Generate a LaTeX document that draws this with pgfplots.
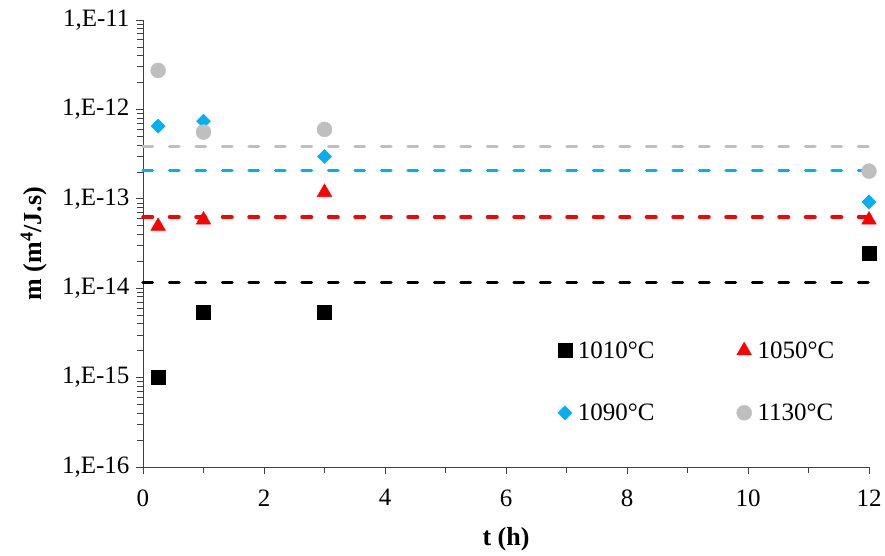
\documentclass[border=0pt]{standalone}
\usepackage{fontspec}
\setmainfont{Liberation Serif}
\usepackage{pgfplots}
\pgfplotsset{compat=1.18}
\definecolor{cgray}{RGB}{191,191,191}
\definecolor{cblue}{RGB}{0,176,240}
\definecolor{cred}{RGB}{255,0,0}
\definecolor{axgray}{RGB}{64,64,64}
\newcommand{\tl}[1]{\textnormal{\fontsize{25}{30}\selectfont #1}}
\begin{document}
\begin{tikzpicture}
\path[use as bounding box] (-143pt,-89pt) rectangle (742pt,467pt);
\begin{axis}[
 at={(0,0)}, anchor=south west,
 scale only axis, width=726pt, height=447pt,
 xmin=0, xmax=12, ymode=log, ymin=1e-16, ymax=1e-11,
 axis lines*=left,
 axis line style={axgray, line width=0.8pt},
 xtick={0,2,...,12}, minor xtick={1,3,...,11},
 xticklabels={\tl{0},\tl{2},\tl{4},\tl{6},\tl{8},\tl{10},\tl{12}},
 ytick={1e-16,1e-15,1e-14,1e-13,1e-12,1e-11},
 yticklabels={{\tl{1,E-16}},{\tl{1,E-15}},{\tl{1,E-14}},{\tl{1,E-13}},{\tl{1,E-12}},{\tl{1,E-11}}},
 minor ytick={2e-16,3e-16,4e-16,5e-16,6e-16,7e-16,8e-16,9e-16,
   2e-15,3e-15,4e-15,5e-15,6e-15,7e-15,8e-15,9e-15,
   2e-14,3e-14,4e-14,5e-14,6e-14,7e-14,8e-14,9e-14,
   2e-13,3e-13,4e-13,5e-13,6e-13,7e-13,8e-13,9e-13,
   2e-12,3e-12,4e-12,5e-12,6e-12,7e-12,8e-12,9e-12},
 /pgf/number format/assume math mode=true,
 tick align=outside, major tick length=7pt, minor tick length=6pt,
 tick style={axgray, line width=0.8pt},
 every tick label/.append style={font=\fontsize{25}{30}\selectfont},
 xticklabel style={yshift=-12pt},
 yticklabel style={xshift=-3pt},
 xlabel={\textbf{t (h)}}, ylabel={\textbf{m (m\textsuperscript{4}/J.s)}},
 xlabel style={yshift=-14pt},
 ylabel style={yshift=8pt},
 label style={font=\fontsize{26}{30}\selectfont},
 clip=false,
 legend columns=2,
 legend cell align=left,
 legend style={draw=none, fill=none, at={(0.567,0.29)}, anchor=north west,
   font=\fontsize{25}{25}\selectfont, /tikz/every even column/.append style={column sep=80pt},
   row sep=40pt},
]
\addplot[only marks, mark=square*, mark size=7pt, color=black] coordinates {(0.25,1.0e-15) (1,5.35e-15) (3,5.4e-15) (12,2.44e-14)};
\addlegendentry{\hspace{4pt}1010°C}
\addplot[only marks, mark=triangle*, mark size=8.5pt, color=cred] coordinates {(0.25,4.93e-14) (1,5.8e-14) (3,1.18e-13) (12,5.8e-14)};
\addlegendentry{\hspace{4pt}1050°C}
\addplot[only marks, mark=square*, mark options={rotate=45}, mark size=5pt, color=cblue] coordinates {(0.25,6.5e-13) (1,7.4e-13) (3,2.98e-13) (12,9.2e-14)};
\addlegendentry{\hspace{4pt}1090°C}
\addplot[only marks, mark=*, mark size=7.5pt, color=cgray] coordinates {(0.25,2.73e-12) (1,5.58e-13) (3,5.98e-13) (12,2.04e-13)};
\addlegendentry{\hspace{4pt}1130°C}
\addplot[forget plot, black, line width=3.5pt, line cap=round, dash pattern=on 9.5pt off 17pt] coordinates {(0,1.16e-14) (12,1.16e-14)};
\addplot[forget plot, cred, line width=3.5pt, line cap=round, dash pattern=on 9.5pt off 17pt] coordinates {(0,6.25e-14) (12,6.25e-14)};
\addplot[forget plot, cblue, line width=3.5pt, line cap=round, dash pattern=on 9.5pt off 17pt] coordinates {(0,2.08e-13) (12,2.08e-13)};
\addplot[forget plot, cgray, line width=3.5pt, line cap=round, dash pattern=on 9.5pt off 17pt] coordinates {(0,3.86e-13) (12,3.86e-13)};
\end{axis}
\end{tikzpicture}
\end{document}
